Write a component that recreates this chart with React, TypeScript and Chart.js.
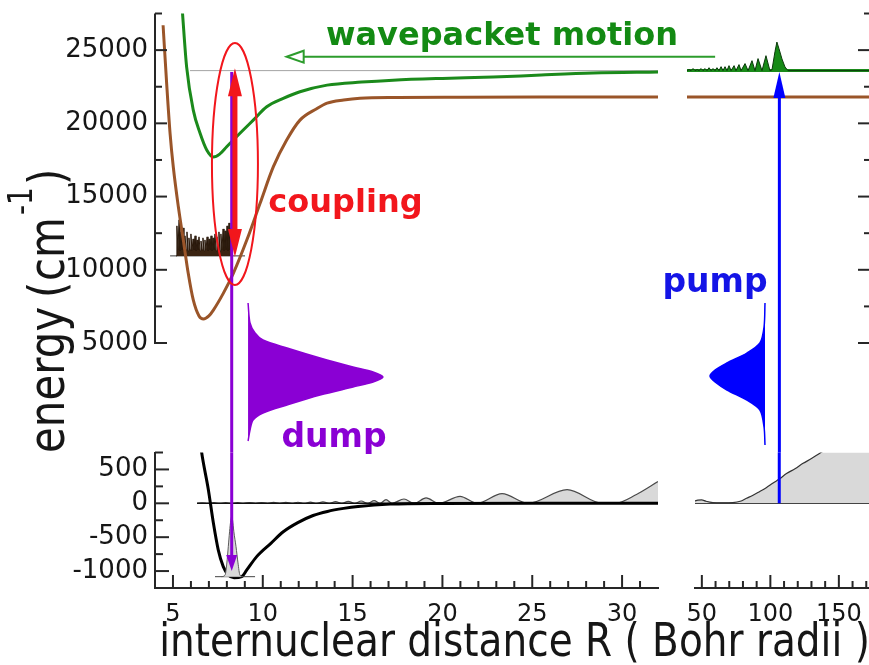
import React, { useEffect, useRef } from 'react';
import { Chart, registerables } from 'chart.js';

Chart.register(...registerables);

// ---------------- axis ticks ----------------
const energyMajorTicks = [5000, 10000, 15000, 20000, 25000];
const energyMinorTicks = [7500, 12500, 17500, 22500, 27500];
const lowMajorTicks = [500, 0, -500, -1000];
const lowMinorTicks = [750, 250, -250, -750];
const shortRMajorTicks = [5, 10, 15, 20, 25, 30];
const shortRMinorTicks = [6, 7, 8, 9, 11, 12, 13, 14, 16, 17, 18, 19, 21, 22, 23, 24, 26, 27, 28, 29, 31];
const longRMajorTicks = [50, 100, 150];
const longRMinorTicks = [60, 70, 80, 90, 110, 120, 130, 140, 160, 170];

// ---------------- upper panel (energy, cm^-1) ----------------
const upperR = [5.52, 5.76, 6.13, 6.51, 6.88, 7.25, 7.6, 7.99, 8.73, 9.47, 10.22, 11.14, 12.07, 13.58, 15.5, 17.25, 20, 22.82, 25.5, 28.39, 32];
const upperE = [27700, 23860, 20900, 19320, 18180, 17700, 17900, 18400, 19320, 20220, 21130, 21700, 22160, 22610, 22820, 22950, 23070, 23160, 23300, 23430, 23500];

const lowerR = [4.45, 4.65, 4.84, 5.02, 5.3, 5.58, 5.85, 6.13, 6.45, 6.7, 7.0, 7.25, 7.8, 8.36, 9.11, 9.85, 10.59, 11.33, 12.07, 13.0, 13.58, 14.5, 15.41, 17.5, 21, 26, 32];
const lowerE = [26700, 22700, 19300, 17000, 14300, 12000, 9760, 7940, 6850, 6640, 6850, 7250, 8390, 9760, 12030, 14540, 17040, 18860, 20220, 21000, 21380, 21600, 21720, 21770, 21790, 21800, 21800];

const packetLevel = 10950;
const packetR = [5.17, 5.22, 5.28, 5.34, 5.39, 5.45, 5.5, 5.56, 5.61, 5.67, 5.73, 5.78, 5.84, 5.89, 5.95, 6.0, 6.06, 6.12, 6.17, 6.23, 6.28, 6.34, 6.39, 6.45, 6.51, 6.56, 6.62, 6.67, 6.73, 6.78, 6.84, 6.9, 6.95, 7.01, 7.06, 7.12, 7.17, 7.23, 7.28, 7.34, 7.4, 7.45, 7.51, 7.56, 7.62, 7.67, 7.73, 7.79, 7.84, 7.9, 7.95, 8.01, 8.06, 8.12, 8.17, 8.23, 8.29];
const packetE = [10950, 13000, 11360, 13410, 11290, 12590, 11360, 12860, 11290, 12320, 11360, 12590, 11290, 12180, 11360, 12450, 11290, 12110, 11360, 12320, 11290, 12040, 11360, 12250, 11290, 11970, 11360, 12180, 11290, 12040, 11360, 12250, 11290, 12110, 11360, 12320, 11290, 12180, 11360, 12450, 11290, 12250, 11360, 12590, 11290, 12450, 11360, 12790, 11290, 12660, 11360, 13000, 11290, 13200, 11360, 12860, 10950];
const packetBaseR = [4.84, 9.01];
const packetBaseE = [packetLevel, packetLevel];

const thresholdR = [5.95, 32];
const thresholdE = [23600, 23600];

const dumpPulseR = [9.18, 9.29, 9.57, 10.01, 11.35, 13.19, 15.02, 16.14, 16.69, 16.14, 15.02, 13.19, 11.35, 10.01, 9.46, 9.29, 9.18];
const dumpPulseE = [7731, 6365, 5683, 5205, 4659, 3976, 3362, 3020, 2679, 2337, 1996, 1450, 767, 221, -257, -940, -1690];

const farUpperR = [39, 172];
const farUpperE = [23600, 23600];
const farLowerR = [39, 172];
const farLowerE = [21800, 21800];

const farPacketLevel = 23600;
const farPacketR = [39, 40.5, 42.0, 43.4, 44.9, 46.4, 47.8, 49.3, 50.7, 52.2, 53.6, 55.1, 56.6, 58.0, 59.5, 60.9, 62.4, 63.9, 65.3, 66.8, 68.2, 69.7, 71.2, 73.4, 74.8, 77.0, 78.5, 81.4, 83.6, 86.5, 88.7, 90.9, 93.8, 96.7, 99.6, 101.1, 103.3, 104.7, 106.2, 108.4, 110.6, 112.8, 172];
const farPacketE = [23600, 23670, 23600, 23740, 23600, 23670, 23600, 23740, 23600, 23740, 23600, 23800, 23600, 23740, 23600, 23800, 23600, 23870, 23600, 23870, 23600, 23940, 23600, 23940, 23600, 24010, 23600, 24080, 23600, 24280, 23600, 24420, 23600, 24620, 23600, 23650, 24900, 25550, 25100, 24400, 23850, 23600, 23600];

const pumpPulseR = [96.0, 95.3, 92.3, 82.8, 68.2, 59.5, 55.8, 59.5, 68.2, 82.8, 92.3, 95.3, 96.0];
const pumpPulseE = [7731, 6092, 5000, 4317, 3635, 3157, 2747, 2337, 1791, 1109, 426, -735, -1963];

// ---------------- lower panel (energy, cm^-1) ----------------
const groundR = [6.55, 6.6, 6.97, 7.25, 7.52, 7.8, 8.08, 8.4, 8.83, 9.11, 9.66, 10.45, 11.14, 11.95, 12.8, 13.6, 14.5, 15.3, 17.1, 19.9, 25, 32];
const groundV = [850, 745, 201, -292, -687, -935, -1058, -1100, -1083, -984, -787, -590, -420, -285, -180, -120, -75, -46, -12, -2, 0, 0];

const groundPacketLevel = -1083;
const groundPacketR = [7.7, 7.9, 8.0, 8.08, 8.15, 8.22, 8.27, 8.32, 8.39, 8.51, 8.62, 8.73, 8.9];
const groundPacketV = [-1083, -1060, -880, -640, -420, -250, -194, -250, -420, -640, -880, -1060, -1083];
const groundLevelR = [7.34, 9.57];
const groundLevelV = [groundPacketLevel, groundPacketLevel];

const zeroLineR = [6.34, 32];
const zeroLineV = [0, 0];
const continuumR = [6.34, 6.62, 6.95, 7.28, 7.6, 7.93, 8.26, 8.6, 8.93, 9.26, 9.6, 9.93, 10.27, 10.6, 10.94, 11.28, 11.62, 11.96, 12.3, 12.65, 13.0, 13.35, 13.7, 14.05, 14.4, 14.76, 15.12, 15.48, 15.84, 16.2, 16.53, 16.86, 17.2, 17.86, 18.42, 19.09, 19.81, 20.98, 21.93, 23.32, 24.77, 26.94, 28.9, 29.6, 30.8, 32];
const continuumV = [0, 8, 0, 9, 0, 9, 0, 10, 0, 11, 0, 12, 0, 13, 0, 14, 0, 16, 0, 18, 0, 21, 0, 25, 0, 29, 0, 34, 0, 40, 0, 53, 0, 64, 0, 79, 0, 102, 0, 142, 0, 201, 0, 0, 130, 320];

const farZeroR = [45, 172];
const farZeroV = [0, 0];
const farContinuumR = [45, 47, 49.8, 53, 58, 65, 72.6, 78, 82.6, 87, 92.3, 97, 102, 107, 111.8, 118, 123.9, 130, 136.1, 145, 160, 172];
const farContinuumV = [35, 48, 50, 30, 10, 5, 10, 30, 75, 115, 175, 230, 300, 365, 440, 510, 590, 660, 740, 850, 1000, 1100];

// ---------------- laser / coupling markers ----------------
const dumpR = 8.27;
const dumpLineR = [dumpR, dumpR];
const dumpLineE = [-3000, 23500];
const dumpTipV = -1000;
const pumpR = 106.5;
const pumpLineR = [pumpR, pumpR];
const pumpLineV = [0, 3000];
const pumpTipE = 23500;
const couplingR = 8.45;
const couplingEnds = [10870, 23770];
const couplingEllipse = [8.45, 17220, 1.28, 8260]; // centre R, centre E, half-width R, half-height E
const motionArrow = [24550, 35.18, 11.33]; // energy, from R, to R

// ---------------- ranges ----------------
const energyMin = -2475;
const energyMax = 27500;
const lowMin = -1250;
const lowMax = 750;

// ---------------- styling ----------------
const FONT = "'DejaVu Sans', 'Liberation Sans', sans-serif";
const AXIS = '#262626';
const TEXT = '#161616';
const GREEN = '#1b8a1b';
const BROWN = '#9a5529';
const PURPLE = '#8a00d4';
const RED = '#f2161c';
const BLUE = '#0000ff';
const GRAY_FILL = '#d9d9d9';

const xy = (xs: number[], ys: number[]) => xs.map((x, i) => ({ x, y: ys[i] }));

function line(xs: number[], ys: number[], color: string, width: number, extra: any = {}) {
  return {
    data: xy(xs, ys),
    borderColor: color,
    backgroundColor: color,
    borderWidth: width,
    pointRadius: 0,
    pointHoverRadius: 0,
    fill: false,
    tension: 0,
    ...extra,
  };
}

const fixWidth = (w: number) => (s: any) => {
  s.width = w;
  s.paddingTop = 0; s.paddingBottom = 0; s.paddingLeft = 0; s.paddingRight = 0;
};
const fixHeight = (h: number) => (s: any) => {
  s.height = h;
  s.paddingTop = 0; s.paddingBottom = 0; s.paddingLeft = 0; s.paddingRight = 0;
};
const setTicks = (vals: number[]) => (s: any) => { s.ticks = vals.map((v) => ({ value: v })); };
const plain = (v: any) => String(v);

function baseOptions(padding: any, scales: any) {
  return {
    responsive: false,
    maintainAspectRatio: false,
    animation: false,
    devicePixelRatio: 1,
    events: [],
    layout: { padding },
    plugins: { legend: { display: false }, tooltip: { enabled: false }, title: { display: false } },
    scales,
  };
}

type Decor = {
  ticks?: { axis: 'x' | 'y'; side: 'left' | 'right' | 'bottom'; values: number[]; len: number }[];
  axisLine?: { from: number; to: number };
  ellipses?: { cx: number; cy: number; rx: number; ry: number; color: string; width: number }[];
  arrows?: { dir: 'v' | 'h'; at: number; from: number; to: number; color: string; width: number; headLen: number; headHalf: number; both?: boolean; open?: boolean; clip?: boolean }[];
  texts?: { text: string; x: number; y: number; font: string; color: string; sy?: number }[];
  extra?: (ctx: CanvasRenderingContext2D) => void;
};

function decor(d: Decor) {
  return {
    id: 'decor',
    afterDraw(chart: any) {
      const ctx: CanvasRenderingContext2D = chart.ctx;
      const ca = chart.chartArea;
      const xs = chart.scales.x;
      const ys = chart.scales.y;
      ctx.save();
      ctx.strokeStyle = AXIS;
      ctx.lineWidth = 2;
      for (const t of d.ticks || []) {
        for (const v of t.values) {
          ctx.beginPath();
          if (t.axis === 'y') {
            const py = ys.getPixelForValue(v);
            if (t.side === 'left') { ctx.moveTo(ca.left, py); ctx.lineTo(ca.left + t.len, py); }
            else { ctx.moveTo(ca.right, py); ctx.lineTo(ca.right - t.len, py); }
          } else {
            const px = xs.getPixelForValue(v);
            ctx.moveTo(px, ca.bottom); ctx.lineTo(px, ca.bottom - t.len);
          }
          ctx.stroke();
        }
      }
      if (d.axisLine) {
        ctx.beginPath();
        ctx.moveTo(ca.left, ys.getPixelForValue(d.axisLine.from) + 1);
        ctx.lineTo(ca.left, ys.getPixelForValue(d.axisLine.to));
        ctx.stroke();
      }
      for (const e of d.ellipses || []) {
        const cx = xs.getPixelForValue(e.cx);
        const cy = ys.getPixelForValue(e.cy);
        const rx = Math.abs(xs.getPixelForValue(e.cx + e.rx) - cx);
        const ry = Math.abs(ys.getPixelForValue(e.cy + e.ry) - cy);
        ctx.strokeStyle = e.color;
        ctx.lineWidth = e.width;
        ctx.beginPath();
        ctx.ellipse(cx, cy, rx, ry, 0, 0, Math.PI * 2);
        ctx.stroke();
      }
      for (const a of d.arrows || []) {
        ctx.save();
        if (a.clip) {
          ctx.beginPath();
          ctx.rect(ca.left, ca.top, ca.right - ca.left, ca.bottom - ca.top);
          ctx.clip();
        }
        let x1, y1, x2, y2;
        if (a.dir === 'v') {
          x1 = x2 = xs.getPixelForValue(a.at);
          y1 = ys.getPixelForValue(a.from);
          y2 = ys.getPixelForValue(a.to);
        } else {
          y1 = y2 = ys.getPixelForValue(a.at);
          x1 = xs.getPixelForValue(a.from);
          x2 = xs.getPixelForValue(a.to);
        }
        const L = Math.hypot(x2 - x1, y2 - y1);
        const ux = (x2 - x1) / L;
        const uy = (y2 - y1) / L;
        const back = a.headLen * (a.open ? 1 : 0.85);
        ctx.strokeStyle = a.color;
        ctx.fillStyle = a.color;
        ctx.lineWidth = a.width;
        ctx.beginPath();
        ctx.moveTo(a.both ? x1 + ux * back : x1, a.both ? y1 + uy * back : y1);
        ctx.lineTo(x2 - ux * back, y2 - uy * back);
        ctx.stroke();
        const head = (tx: number, ty: number, dx: number, dy: number) => {
          const bx = tx - dx * a.headLen;
          const by = ty - dy * a.headLen;
          const nx = -dy;
          const ny = dx;
          ctx.beginPath();
          ctx.moveTo(tx, ty);
          ctx.lineTo(bx + nx * a.headHalf, by + ny * a.headHalf);
          ctx.lineTo(bx - nx * a.headHalf, by - ny * a.headHalf);
          ctx.closePath();
          if (a.open) {
            ctx.fillStyle = '#ffffff';
            ctx.fill();
            ctx.lineWidth = 2;
            ctx.stroke();
          } else {
            ctx.fill();
          }
        };
        head(x2, y2, ux, uy);
        if (a.both) head(x1, y1, -ux, -uy);
        ctx.restore();
      }
      for (const t of d.texts || []) {
        ctx.save();
        ctx.font = t.font;
        ctx.fillStyle = t.color;
        ctx.textAlign = 'center';
        ctx.textBaseline = 'alphabetic';
        ctx.translate(t.x, t.y);
        ctx.scale(1, t.sy || 1);
        ctx.fillText(t.text, 0, 0);
        ctx.restore();
      }
      if (d.extra) d.extra(ctx);
      ctx.restore();
    },
  };
}

function drawEnergyTitle(ctx: CanvasRenderingContext2D) {
  ctx.save();
  ctx.fillStyle = TEXT;
  ctx.translate(64, 453);
  ctx.rotate(-Math.PI / 2);
  ctx.scale(1, 1.2);
  ctx.textAlign = 'left';
  ctx.textBaseline = 'alphabetic';
  ctx.font = `42px ${FONT}`;
  ctx.fillText('energy', 0, 0);
  ctx.fillText('(', 155, 0);
  ctx.fillText('cm', 172, 0);
  ctx.fillText(')', 268, 0);
  ctx.font = `28px ${FONT}`;
  ctx.fillText('-1', 238, -27);
  ctx.restore();
}

const yTickStyle = { font: { family: FONT, size: 26 }, color: TEXT, padding: 7, autoSkip: false, callback: plain };
const xTickStyle = { font: { family: FONT, size: 24 }, color: TEXT, padding: 12, autoSkip: false, maxRotation: 0, minRotation: 0, callback: plain };

function makeTopLeft() {
  return {
    type: 'line',
    data: {
      datasets: [
        line(dumpLineR, dumpLineE, PURPLE, 3),
        line(lowerR, lowerE, BROWN, 3, { cubicInterpolationMode: 'monotone' }),
        line(upperR, upperE, GREEN, 3, { cubicInterpolationMode: 'monotone' }),
        line(dumpPulseR, dumpPulseE, PURPLE, 1.5, { fill: 'shape', tension: 0.3 }),
        line(packetR, packetE, '#2a190b', 1, { fill: { value: packetLevel }, backgroundColor: '#3b2412' }),
        line(packetBaseR, packetBaseE, '#3a3a3a', 1),
        line(thresholdR, thresholdE, '#a3a3a3', 1),
      ],
    },
    options: baseOptions({ left: 0, top: 13.5, right: 211, bottom: 7.5 }, {
      x: { type: 'linear', min: 4, max: 32, display: false },
      y: {
        type: 'linear', position: 'left', min: energyMin, max: energyMax,
        afterFit: fixWidth(155), afterBuildTicks: setTicks(energyMajorTicks),
        grid: { display: false, drawTicks: false }, border: { display: false },
        ticks: yTickStyle,
      },
    }),
    plugins: [decor({
      ticks: [
        { axis: 'y', side: 'left', values: energyMajorTicks, len: 12 },
        { axis: 'y', side: 'left', values: energyMinorTicks, len: 7 },
      ],
      axisLine: { from: 5000, to: energyMax },
      ellipses: [{ cx: couplingEllipse[0], cy: couplingEllipse[1], rx: couplingEllipse[2], ry: couplingEllipse[3], color: RED, width: 2 }],
      arrows: [
        { dir: 'v', at: couplingR, from: couplingEnds[0], to: couplingEnds[1], both: true, color: RED, width: 5, headLen: 28, headHalf: 7, clip: true },
        { dir: 'h', at: motionArrow[0], from: motionArrow[1], to: motionArrow[2], color: '#2c9c2c', width: 2, headLen: 17, headHalf: 6, open: true },
      ],
      texts: [
        { text: 'wavepacket motion', x: 502, y: 45, font: `bold 32px ${FONT}`, color: '#138a13' },
        { text: 'coupling', x: 345.5, y: 212, font: `bold 32px ${FONT}`, color: RED },
        { text: 'dump', x: 334, y: 447, font: `bold 33px ${FONT}`, color: PURPLE },
      ],
      extra: drawEnergyTitle,
    })],
  };
}

function makeTopRight() {
  return {
    type: 'line',
    data: {
      datasets: [
        line(pumpPulseR, pumpPulseE, BLUE, 1.5, { fill: 'shape', tension: 0.3 }),
        line(farPacketR, farPacketE, '#0b3a0b', 1, { fill: { value: farPacketLevel }, backgroundColor: '#168a16' }),
        line(farUpperR, farUpperE, GREEN, 3),
        line(farLowerR, farLowerE, BROWN, 3),
      ],
    },
    options: baseOptions({ left: 47, top: 13.5, right: 0, bottom: 7.5 }, {
      x: { type: 'linear', min: 39, max: 172, display: false },
      y: { type: 'linear', min: energyMin, max: energyMax, display: false },
    }),
    plugins: [decor({
      ticks: [
        { axis: 'y', side: 'right', values: energyMajorTicks, len: 11 },
        { axis: 'y', side: 'right', values: energyMinorTicks, len: 5 },
      ],
      arrows: [
        { dir: 'v', at: pumpR, from: -3000, to: pumpTipE, color: BLUE, width: 3, headLen: 26, headHalf: 6, clip: true },
      ],
      texts: [
        { text: 'pump', x: 75, y: 292, font: `bold 33px ${FONT}`, color: '#1414e6' },
      ],
    })],
  };
}

function makeBottomLeft() {
  return {
    type: 'line',
    data: {
      datasets: [
        line(groundPacketR, groundPacketV, '#5a5a5a', 1, { cubicInterpolationMode: 'monotone', fill: { value: groundPacketLevel }, backgroundColor: GRAY_FILL }),
        line(groundLevelR, groundLevelV, '#444444', 1),
        line(groundR, groundV, '#000000', 3, { cubicInterpolationMode: 'monotone' }),
        line(zeroLineR, zeroLineV, '#111111', 1.5),
        line(continuumR, continuumV, '#4a4a4a', 1.2, { cubicInterpolationMode: 'monotone', fill: 'origin', backgroundColor: GRAY_FILL }),
      ],
    },
    options: baseOptions({ left: 0, top: 12.5, right: 211, bottom: 0 }, {
      x: {
        type: 'linear', position: 'bottom', min: 4, max: 32,
        afterFit: fixHeight(77), afterBuildTicks: setTicks(shortRMajorTicks),
        grid: { display: false, drawTicks: false }, border: { display: true, color: AXIS, width: 2 },
        ticks: xTickStyle,
      },
      y: {
        type: 'linear', position: 'left', min: lowMin, max: lowMax,
        afterFit: fixWidth(155), afterBuildTicks: setTicks(lowMajorTicks),
        grid: { display: false, drawTicks: false }, border: { display: true, color: AXIS, width: 2 },
        ticks: yTickStyle,
      },
    }),
    plugins: [decor({
      ticks: [
        { axis: 'y', side: 'left', values: lowMajorTicks, len: 14 },
        { axis: 'y', side: 'left', values: lowMinorTicks, len: 8 },
        { axis: 'x', side: 'bottom', values: shortRMajorTicks, len: 13 },
        { axis: 'x', side: 'bottom', values: shortRMinorTicks, len: 7 },
      ],
      arrows: [
        { dir: 'v', at: dumpR, from: 3000, to: dumpTipV, color: PURPLE, width: 3, headLen: 16, headHalf: 5.5, clip: true },
      ],
      texts: [
        { text: 'internuclear distance R ( Bohr radii )', x: 514.5, y: 216, font: `39px ${FONT}`, color: TEXT, sy: 1.2 },
      ],
    })],
  };
}

function makeBottomRight() {
  return {
    type: 'line',
    data: {
      datasets: [
        line(pumpLineR, pumpLineV, BLUE, 3),
        line(farContinuumR, farContinuumV, '#333333', 1.2, { cubicInterpolationMode: 'monotone', fill: 'origin', backgroundColor: GRAY_FILL }),
        line(farZeroR, farZeroV, '#111111', 1.5),
      ],
    },
    options: baseOptions({ left: 55, top: 12.5, right: 0, bottom: 0 }, {
      x: {
        type: 'linear', position: 'bottom', min: 45, max: 172,
        afterFit: fixHeight(77), afterBuildTicks: setTicks(longRMajorTicks),
        grid: { display: false, drawTicks: false }, border: { display: true, color: AXIS, width: 2 },
        ticks: xTickStyle,
      },
      y: { type: 'linear', min: lowMin, max: lowMax, display: false },
    }),
    plugins: [decor({
      ticks: [
        { axis: 'x', side: 'bottom', values: longRMajorTicks, len: 13 },
        { axis: 'x', side: 'bottom', values: longRMinorTicks, len: 7 },
      ],
    })],
  };
}

function Panel(props: { left: number; top: number; width: number; height: number; make: () => any }) {
  const ref = useRef<HTMLCanvasElement>(null);
  useEffect(() => {
    const chart = new Chart(ref.current as HTMLCanvasElement, props.make());
    return () => chart.destroy();
  }, []);
  return (
    <canvas
      ref={ref}
      width={props.width}
      height={props.height}
      style={{ position: 'absolute', left: props.left, top: props.top, width: props.width, height: props.height, display: 'block' }}
    />
  );
}

export default function App() {
  return (
    <div style={{ position: 'absolute', left: 0, top: 0, width: 869, height: 665, overflow: 'hidden', background: '#ffffff' }}>
      <Panel left={0} top={0} width={869} height={460} make={makeTopLeft} />
      <Panel left={640} top={0} width={229} height={460} make={makeTopRight} />
      <Panel left={0} top={440} width={869} height={225} make={makeBottomLeft} />
      <Panel left={640} top={440} width={229} height={225} make={makeBottomRight} />
    </div>
  );
}
